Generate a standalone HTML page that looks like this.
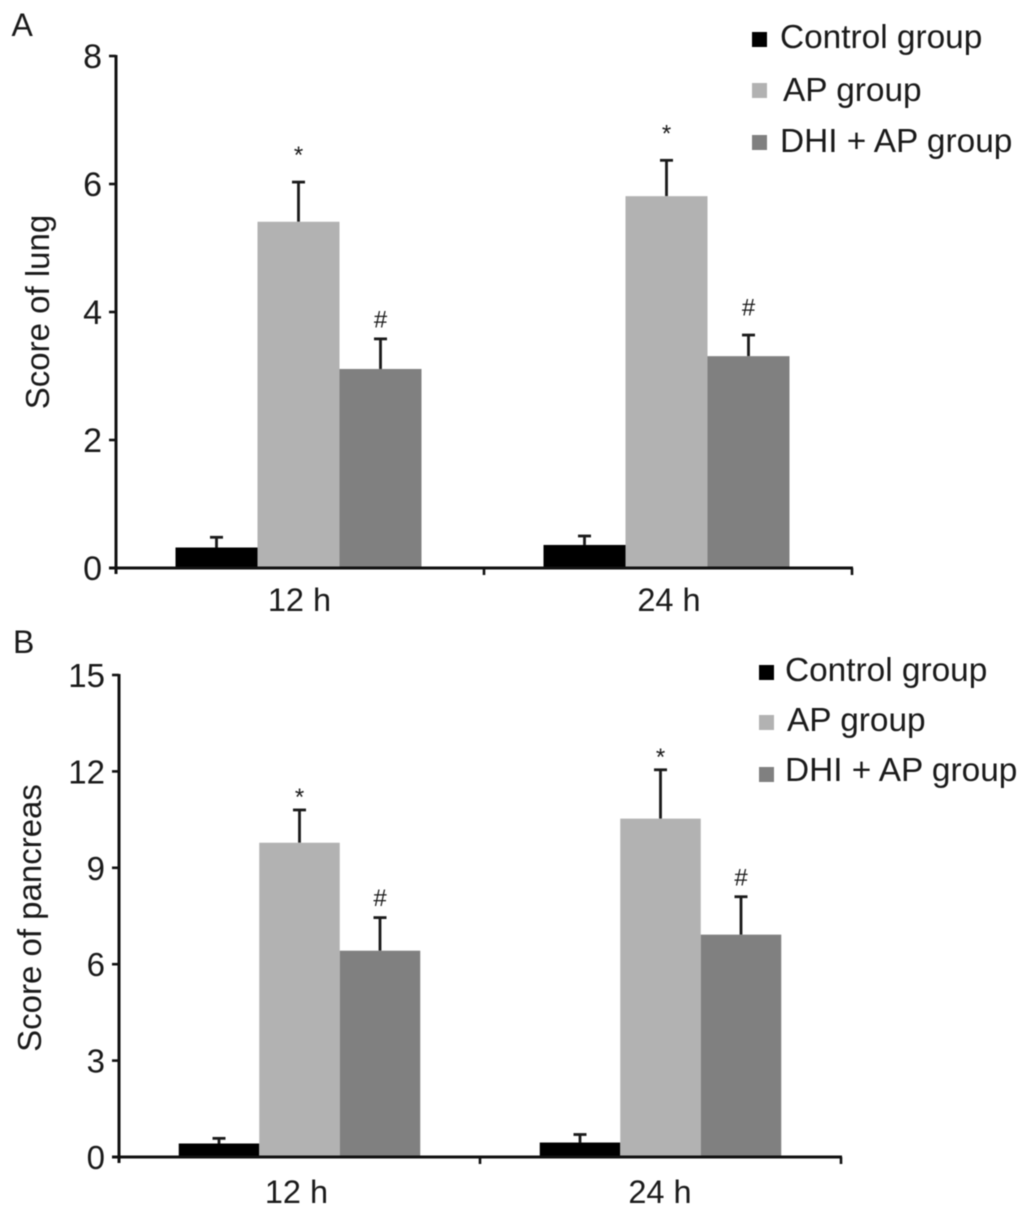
<!DOCTYPE html>
<html>
<head>
<meta charset="utf-8">
<style>
html,body{margin:0;padding:0;background:#fff;width:1028px;height:1214px;overflow:hidden}
svg{display:block;filter:blur(0.5px)}
text{font-family:"Liberation Sans",sans-serif;fill:#1a1a1a}
</style>
</head>
<body>
<svg id="figure" xmlns="http://www.w3.org/2000/svg" width="1028" height="1214" viewBox="0 0 1028 1214"></svg>
<script>
const categories = ['12 h', '24 h'];
const seriesNames = ['Control group', 'AP group', 'DHI + AP group'];
const lungControl = [0.32, 0.36];
const lungAP = [5.41, 5.81];
const lungDHI = [3.11, 3.31];
const lungControlErr = [0.16, 0.14];
const lungAPErr = [0.62, 0.56];
const lungDHIErr = [0.47, 0.33];
const pancreasControl = [0.42, 0.45];
const pancreasAP = [9.78, 10.53];
const pancreasDHI = [6.42, 6.92];
const pancreasControlErr = [0.16, 0.25];
const pancreasAPErr = [1.02, 1.52];
const pancreasDHIErr = [1.03, 1.18];
const lungTicks = [0, 2, 4, 6, 8];
const pancreasTicks = [0, 3, 6, 9, 12, 15];
const lungMarks = [['', '*', '#'], ['', '*', '#']];
const pancreasMarks = [['', '*', '#'], ['', '*', '#']];

const colors = ['#000000', '#b2b2b2', '#808080'];
const svg = document.getElementById('figure');
const NS = 'http://www.w3.org/2000/svg';

function node(tag, attrs, parent, txt) {
  const el = document.createElementNS(NS, tag);
  for (const k in attrs) el.setAttribute(k, attrs[k]);
  if (txt !== undefined) el.textContent = txt;
  (parent || svg).appendChild(el);
  return el;
}

function drawPanel(p) {
  const g = node('g', {}, svg);
  
  
  const yScale = v => p.y0 - (v / p.yMax) * (p.y0 - p.yTop);
  const groupW = (p.xEnd - p.x0) / categories.length;
  const xCenter = i => p.x0 + groupW * (i + 0.5) + p.shift;

  const panelLabel = node('text', {x: p.labelX, y: p.labelY, 'font-size': 32}, g, p.id.toUpperCase());
  
  

  p.series.forEach((vals, s) => {
    vals.forEach((v, i) => {
      const bx = xCenter(i) + (s - 1.5) * p.barW;
      const cx = bx + p.barW / 2;
      const top = yScale(v + p.errors[s][i]);
      const errLine = node('line', {x1: cx, x2: cx, y1: top, y2: yScale(v), stroke: '#1a1a1a', 'stroke-width': 2.8}, g);
      
      
      const errCap = node('line', {x1: cx - 6.5, x2: cx + 6.5, y1: top, y2: top, stroke: '#1a1a1a', 'stroke-width': 2.8}, g);
      
      
      const bar = node('rect', {x: bx, y: yScale(v), width: p.barW, height: p.y0 - yScale(v), fill: colors[s]}, g);
      
      
      const mark = p.marks[i][s];
      if (mark) {
        const mk = node('text', {x: cx, y: top - p.markGap[i][s], 'font-size': 24, 'text-anchor': 'middle'}, g, mark);
        
        
      }
    });
  });

  const yAxis = node('line', {x1: p.x0, x2: p.x0, y1: p.yTop - 1, y2: p.y0 + 6, stroke: '#111', 'stroke-width': 3}, g);
  
  
  const xAxis = node('line', {x1: p.x0 - 7, x2: p.xEnd + 1, y1: p.y0, y2: p.y0, stroke: '#111', 'stroke-width': 3}, g);
  
  

  p.ticks.forEach(t => {
    const y = yScale(t);
    const tick = node('line', {x1: p.x0 - 7, x2: p.x0, y1: y, y2: y, stroke: '#111', 'stroke-width': 2.6}, g);
    
    
    const lab = node('text', {x: p.x0 - 14, y: y + 12, 'font-size': p.tickFont, 'text-anchor': 'end'}, g, t);
    
    
  });

  for (let i = 1; i <= categories.length; i++) {
    const x = p.x0 + groupW * i;
    const tick = node('line', {x1: x, x2: x, y1: p.y0, y2: p.y0 + 7, stroke: '#111', 'stroke-width': 2.6}, g);
    
    
  }
  categories.forEach((c, i) => {
    const lab = node('text', {x: xCenter(i) + p.catShift[i], y: p.catY, 'font-size': 32.5, 'text-anchor': 'middle'}, g, c);
    
    
  });

  const title = node('text', {transform: 'translate(' + p.titleX + ',' + p.titleY + ') rotate(-90)', 'font-size': 33, 'text-anchor': 'middle'}, g, p.title);
  
  

  seriesNames.forEach((name, s) => {
    const swatch = node('rect', {x: p.legendSwatchX, y: p.legendY[s] - 8, width: 15, height: 15, fill: colors[s]}, g);
    
    
    const lab = node('text', {x: p.legendTextX[s], y: p.legendY[s] + p.legendDy[s], 'font-size': 33.4}, g, name);
    
    
  });
}

drawPanel({
  id: 'a', title: 'Score of lung', labelX: 11.5, labelY: 36,
  x0: 116, xEnd: 852, y0: 568, yTop: 56, yMax: 8, barW: 82, shift: -1.5, catShift: [1, 2.5], catY: 611,
  titleX: 49, titleY: 312, tickFont: 34,
  series: [lungControl, lungAP, lungDHI],
  errors: [lungControlErr, lungAPErr, lungDHIErr],
  marks: lungMarks, ticks: lungTicks,
  markGap: [[0, 19, 11.5], [0, 19, 19.5]],
  legendSwatchX: 752, legendTextX: [780, 783, 780], legendY: [40, 91, 143], legendDy: [8, 10, 9]
});

drawPanel({
  id: 'b', title: 'Score of pancreas', labelX: 13, labelY: 653,
  x0: 119, xEnd: 841, y0: 1157, yTop: 675, yMax: 15, barW: 80.5, shift: 0, catShift: [-3, -0.5], catY: 1203,
  titleX: 41, titleY: 918, tickFont: 33,
  series: [pancreasControl, pancreasAP, pancreasDHI],
  errors: [pancreasControlErr, pancreasAPErr, pancreasDHIErr],
  marks: pancreasMarks, ticks: pancreasTicks,
  markGap: [[0, 5, 11.5], [0, 5, 11]],
  legendSwatchX: 759, legendTextX: [785, 787, 785], legendY: [673, 723, 775], legendDy: [8, 8, 6]
});
</script>
</body>
</html>
